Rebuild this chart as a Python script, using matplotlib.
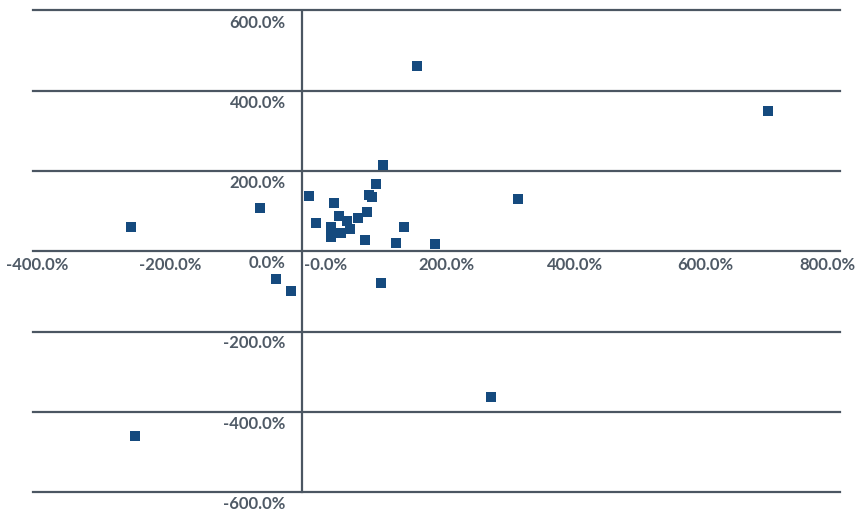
import matplotlib
matplotlib.use("Agg")
import matplotlib.pyplot as plt
from matplotlib.transforms import offset_copy

# ---- data (percent values) ----
x_vals = [171.3, 693.0, 120.8, 110.4, 10.8, 100.0, 104.5, 321.4, -62.0, 47.6,
          96.6, 55.0, 83.2, 67.3, 21.3, 71.8, 43.1, 151.6, 58.0, 43.1,
          94.1, 140.1, 198.1, -38.2, -15.9, 117.8, 281.3, -253.7, -247.7]
y_vals = [462.5, 349.0, 215.2, 167.1, 137.2, 141.2, 134.7, 129.8, 107.3, 119.8,
          98.9, 87.4, 82.4, 76.5, 70.0, 55.0, 60.0, 61.5, 45.1, 35.1,
          27.6, 20.9, 19.2, -68.7, -97.9, -79.9, -364.4, 59.8, -460.8]

x_ticks = [-400, -200, 0, 200, 400, 600, 800]
x_tick_labels = ["-400.0%", "-200.0%", "-0.0%", "200.0%", "400.0%", "600.0%", "800.0%"]
y_ticks = [600, 400, 200, 0, -200, -400, -600]
y_tick_labels = ["600.0%", "400.0%", "200.0%", "0.0%", "-200.0%", "-400.0%", "-600.0%"]

# ---- style ----
W, H = 857, 514
line_color = "#4b5662"
text_color = "#4f5a66"
marker_color = "#154a7e"
font = dict(family=["Lato", "DejaVu Sans"], weight="bold", size=12)

fig = plt.figure(figsize=(W / 100, H / 100), dpi=100)
left, right, top, bottom = 32.5, 840, 10.5, 492
ax = fig.add_axes([left / W, 1 - bottom / H, (right - left) / W, (bottom - top) / H])
ax.set_xlim(-400, 800)
ax.set_ylim(-600, 600)
ax.axis("off")

for yv in y_ticks:
    ax.axhline(yv, color=line_color, lw=1.6, zorder=1, clip_on=False)
ax.axvline(0, color=line_color, lw=1.6, zorder=1, clip_on=False)

ax.scatter(x_vals, y_vals, marker="s", s=55, color=marker_color, linewidths=0, zorder=3)

# y labels: right-aligned left of the vertical axis, just below each gridline
for yv, lab in zip(y_ticks, y_tick_labels):
    tr = offset_copy(ax.transData, fig=fig, x=-16, y=-12, units="dots")
    ax.text(0, yv, lab, transform=tr, ha="right", va="center", color=text_color,
            clip_on=False, **font)

# x labels: below the horizontal axis line
x_shift = {-400: 5, -200: 3, 0: 24, 200: 10, 400: 4, 600: 0, 800: -13}
for xv, lab in zip(x_ticks, x_tick_labels):
    tr = offset_copy(ax.transData, fig=fig, x=x_shift[xv], y=-14, units="dots")
    ax.text(xv, 0, lab, transform=tr, ha="center", va="center", color=text_color,
            clip_on=False, **font)

fig.savefig("out.png", dpi=100)
